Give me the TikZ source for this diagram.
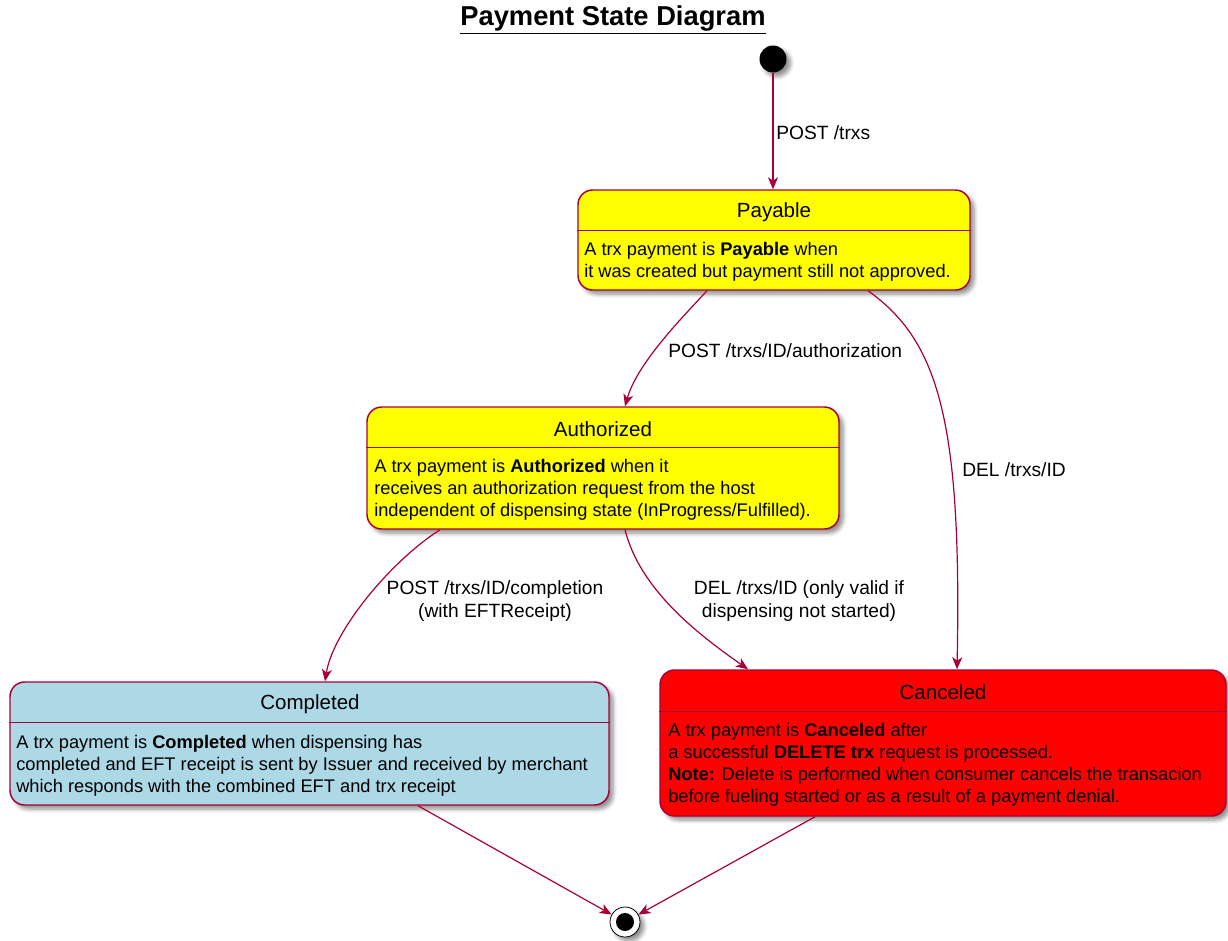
\documentclass[tikz,border=0pt]{standalone}
\usepackage{fontspec}
\setmainfont{Liberation Sans}
\usetikzlibrary{arrows.meta,calc,shadows.blur}
\definecolor{umlred}{HTML}{A80036}
\definecolor{lblue}{HTML}{ADD8E6}
\definecolor{styellow}{HTML}{FFFF00}
\definecolor{stred}{HTML}{FF0000}
\newcommand\bodyfont{\fontsize{13.7}{16.5}\selectfont}
\newcommand\headfont{\fontsize{15.4}{18}\selectfont}
\newcommand\lblfont{\fontsize{14.4}{17.25}\selectfont}
\tikzset{
  softshadow/.style={blur shadow={shadow xshift=3pt, shadow yshift=-3pt,
      shadow blur steps=6, shadow blur radius=3pt, shadow opacity=45}},
  stbox/.style={draw=umlred, line width=1.1pt, rounded corners=11pt,
      inner sep=0pt, softshadow},
  hdr/.style={draw=umlred, line width=1.1pt},
  stname/.style={inner sep=0pt, font=\headfont},
  stbody/.style={inner sep=0pt, anchor=west, align=left, font=\bodyfont},
  lbl/.style={inner sep=0pt, font=\lblfont},
  arr/.style={draw=umlred, line width=0.9pt,
      -{Stealth[length=9pt, width=7.5pt, inset=2.5pt]}},
}
\begin{document}
\begin{tikzpicture}[x=0.75pt, y=-0.75pt]
\useasboundingbox (0,0) rectangle (1228,940);

% title
\node[inner sep=0pt, font=\fontsize{20.5}{24}\bfseries\selectfont] (title) at (613,20)
  {\underline{Payment State Diagram}};

% start and end pseudo-states
\node[circle, fill=black, minimum size=20.25pt, inner sep=0pt, softshadow] (start) at (773,59) {};
\node[circle, draw=black, line width=0.6pt, fill=white, minimum size=22.5pt, inner sep=0pt, softshadow] (end) at (625,922) {};
\node[circle, fill=black, minimum size=13.5pt, inner sep=0pt] (endcore) at (end) {};

% Payable
\node[stbox, fill=styellow, minimum width=294pt, minimum height=75pt] (payable) at (774,240) {};
\draw[hdr] ($(payable.north west)+(0,41)$) -- ($(payable.north east)+(0,41)$);
\node[stname] (payableT) at (774,212) {Payable};
\node[stbody] (payableB) at (584,262) {A trx payment is \textbf{Payable} when\\it was created but payment still not approved.};

% Authorized
\node[stbox, fill=styellow, minimum width=354pt, minimum height=91.5pt] (authorized) at (603,468) {};
\draw[hdr] ($(authorized.north west)+(0,41)$) -- ($(authorized.north east)+(0,41)$);
\node[stname] (authorizedT) at (603,429) {Authorized};
\node[stbody] (authorizedB) at (374,489.5) {A trx payment is \textbf{Authorized} when it\\receives an authorization request from the host\\independent of dispensing state (InProgress/Fulfilled).};

% Completed
\node[stbox, fill=lblue, minimum width=449.25pt, minimum height=92.25pt] (completed) at (309.5,743.5) {};
\draw[hdr] ($(completed.north west)+(0,41)$) -- ($(completed.north east)+(0,41)$);
\node[stname] (completedT) at (310,704) {Completed};
\node[stbody] (completedB) at (16,765.5) {A trx payment is \textbf{Completed} when dispensing has\\completed and EFT receipt is sent by Issuer and received by merchant\\which responds with the combined EFT and trx receipt};

% Canceled
\node[stbox, fill=stred, minimum width=424.5pt, minimum height=109.5pt] (canceled) at (943,743) {};
\draw[hdr] ($(canceled.north west)+(0,42)$) -- ($(canceled.north east)+(0,42)$);
\node[stname] (canceledT) at (943,692) {Canceled};
\node[stbody] (canceledB) at (668,764.5) {A trx payment is \textbf{Canceled} after\\a successful \textbf{DELETE trx} request is processed.\\\textbf{Note:} Delete is performed when consumer cancels the transacion\\before fueling started or as a result of a payment denial.};

% transitions
\draw[arr] (start) -- (start |- payable.north);
\draw[arr] ($(payable.south)+(-67,0)$) .. controls +(-28,30) and +(12,-42) .. ($(authorized.north)+(22,0)$);
\draw[arr] ($(payable.south)+(94,0)$) .. controls +(70,50) and +(5,-250) .. ($(canceled.north)+(14,0)$);
\draw[arr] ($(authorized.south)+(-163,0)$) .. controls +(-50,32) and +(8,-50) .. ($(completed.north)+(15.5,0)$);
\draw[arr] ($(authorized.south)+(22,0)$) .. controls +(15,60) and +(-50,-35) .. ($(canceled.north)+(-195,0)$);
\draw[arr] ($(completed.south)+(108.5,0)$) -- (end);
\draw[arr] ($(canceled.south)+(-128,0)$) -- (end);

% transition labels
\node[lbl, anchor=west] (l1) at (776,133) {POST /trxs};
\node[lbl, anchor=west] (l2) at (668,351) {POST /trxs/ID/authorization};
\node[lbl, anchor=west] (l3) at (962,470) {DEL /trxs/ID};
\node[lbl, align=center] (l4) at (495,601.5) {POST /trxs/ID/completion\\(with EFTReceipt)};
\node[lbl, align=center] (l5) at (799,601.5) {DEL /trxs/ID (only valid if\\ dispensing not started)};
\end{tikzpicture}
\end{document}
